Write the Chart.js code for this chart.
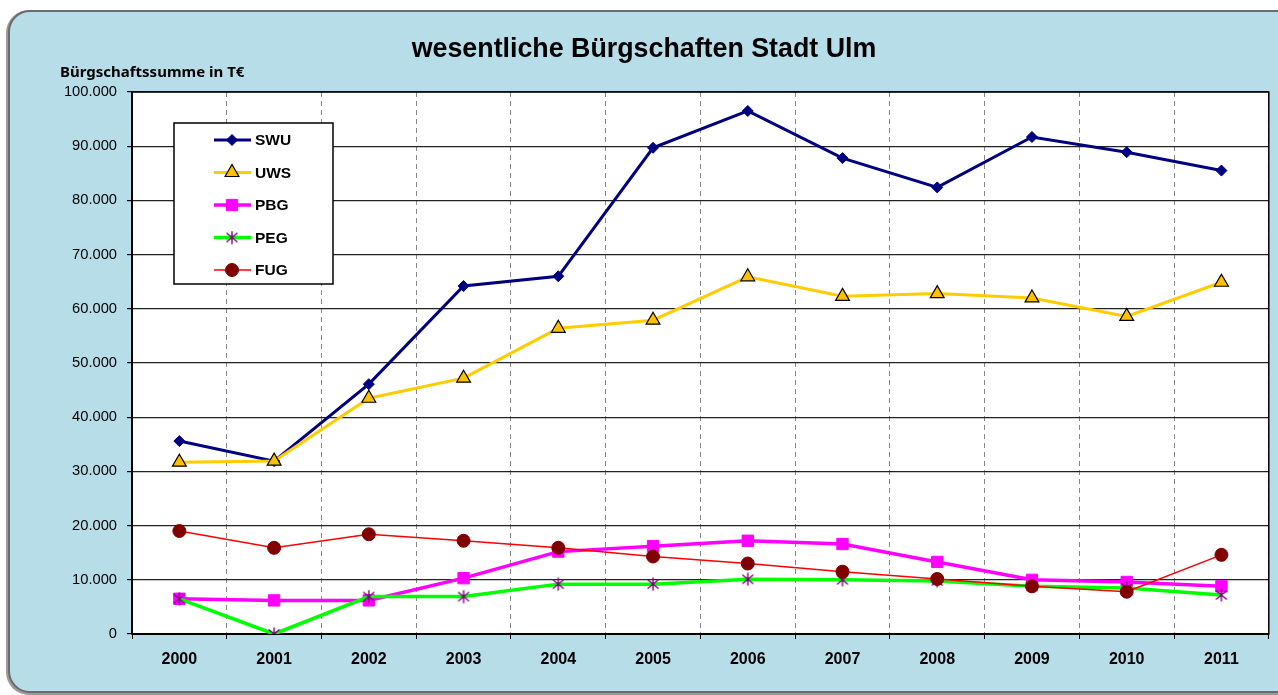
<!DOCTYPE html>
<html>
<head>
<meta charset="utf-8">
<script src="https://cdn.jsdelivr.net/npm/chart.js@4.4.0/dist/chart.umd.min.js"></script>
<style>
  html, body { margin: 0; padding: 0; background: #ffffff; overflow: hidden; }
  #frame { position: absolute; left: 8px; top: 10px; width: 1290px; height: 679px;
           background: #B7DDE8; border: 2px solid #6b6b6b; border-radius: 22px;
           box-shadow: -1px 1px 0 1px #9a9a9a; }
  #wrap { position: absolute; left: 0; top: 0; width: 1278px; height: 695px; }
</style>
</head>
<body>
<div id="frame"></div>
<div id="wrap"><canvas id="c" width="1278" height="695"></canvas></div>
<script>
const years = ['2000','2001','2002','2003','2004','2005','2006','2007','2008','2009','2010','2011'];
const SWU = [35600, 31900, 46100, 64200, 66000, 89700, 96500, 87800, 82400, 91700, 88900, 85500];
const UWS = [31700, 31900, 43500, 47200, 56400, 57900, 65900, 62300, 62800, 62000, 58600, 64900];
const PBG = [6500, 6200, 6200, 10300, 15200, 16200, 17200, 16600, 13300, 10000, 9600, 8800];
const PEG = [6500, 0, 6900, 6900, 9200, 9200, 10100, 10000, 9800, 8800, 8500, 7200];
const FUG = [19000, 15900, 18400, 17200, 15900, 14300, 13000, 11500, 10150, 8800, 7800, 14600];
const titleText = 'wesentliche Bürgschaften Stadt Ulm';
const yTitleText = 'Bürgschaftssumme in T€';

function fmt(v) {
  const s = String(Math.round(v));
  return s.replace(/\B(?=(\d{3})+(?!\d))/g, '.');
}

// Excel-like star marker: X with a vertical bar
function makeStar(color) {
  const c = document.createElement('canvas');
  c.width = 14; c.height = 14;
  const g = c.getContext('2d');
  g.strokeStyle = color;
  g.lineWidth = 1.4;
  g.beginPath();
  g.moveTo(1.5, 2.5); g.lineTo(12.5, 11.5);
  g.moveTo(12.5, 2.5); g.lineTo(1.5, 11.5);
  g.moveTo(7, 0.5); g.lineTo(7, 13.5);
  g.stroke();
  return c;
}
const starImg = makeStar('#800080');

const extras = {
  id: 'extras',
  beforeDraw(chart) {
    const {ctx, chartArea: a} = chart;
    ctx.save();
    ctx.fillStyle = '#ffffff';
    ctx.fillRect(a.left, a.top, a.right - a.left, a.bottom - a.top);
    ctx.restore();
  },
  beforeDatasetsDraw(chart) {
    const {ctx, chartArea: a} = chart;
    ctx.save();
    ctx.strokeStyle = '#000';
    ctx.lineWidth = 1.5;
    ctx.strokeRect(a.left, a.top, a.right - a.left, a.bottom - a.top);
    ctx.beginPath();
    ctx.lineWidth = 2;
    ctx.moveTo(a.left, a.bottom); ctx.lineTo(a.right, a.bottom);
    ctx.moveTo(a.left, a.top); ctx.lineTo(a.left, a.bottom);
    ctx.stroke();
    ctx.restore();
  },
  afterDraw(chart) {
    const {ctx, chartArea: a} = chart;
    ctx.save();
    // title
    ctx.fillStyle = '#000';
    ctx.font = 'bold 26.8px "Liberation Sans", Arial, sans-serif';
    ctx.textAlign = 'center';
    ctx.textBaseline = 'middle';
    ctx.fillText(titleText, 644, 50);
    // y-axis title
    ctx.font = 'bold 15px "Noto Sans", "Open Sans", sans-serif';
    ctx.textAlign = 'left';
    ctx.fillText(yTitleText, 60, 73);
    // legend box
    const bx = a.left + 42, by = a.top + 31, bw = 159, bh = 161;
    ctx.fillStyle = '#fff';
    ctx.fillRect(bx, by, bw, bh);
    ctx.strokeStyle = '#000';
    ctx.lineWidth = 1.5;
    ctx.strokeRect(bx, by, bw, bh);
    chart.data.datasets.forEach((ds, i) => {
      const y = by + 17 + i * 32.5;
      ctx.beginPath();
      ctx.strokeStyle = ds.borderColor;
      ctx.lineWidth = ds.borderWidth;
      ctx.moveTo(bx + 40, y); ctx.lineTo(bx + 77, y);
      ctx.stroke();
      ctx.fillStyle = ds.pointBackgroundColor;
      ctx.strokeStyle = ds.pointBorderColor;
      ctx.lineWidth = ds.pointBorderWidth;
      Chart.helpers.drawPoint(ctx, {
        pointStyle: ds.pointStyle, radius: ds.pointRadius, rotation: 0,
        borderWidth: ds.pointBorderWidth
      }, bx + 58, y);
      ctx.fillStyle = '#000';
      ctx.font = 'bold 15.5px "Liberation Sans", Arial, sans-serif';
      ctx.textAlign = 'left';
      ctx.textBaseline = 'middle';
      ctx.fillText(ds.label, bx + 81, y + 1);
    });
    ctx.restore();
  }
};

new Chart(document.getElementById('c'), {
  type: 'line',
  data: {
    labels: years,
    datasets: [
      { label: 'SWU', data: SWU, borderColor: '#000080', borderWidth: 3,
        pointStyle: 'rectRot', pointRadius: 5.5, pointBackgroundColor: '#000080',
        pointBorderColor: '#000080', pointBorderWidth: 1, order: 5 },
      { label: 'UWS', data: UWS, borderColor: '#FFCC00', borderWidth: 3,
        pointStyle: 'triangle', pointRadius: 8, pointBackgroundColor: '#FFC000',
        pointBorderColor: '#000000', pointBorderWidth: 1.2, order: 4 },
      { label: 'PBG', data: PBG, borderColor: '#FF00FF', borderWidth: 3.5,
        pointStyle: 'rect', pointRadius: 8, pointBackgroundColor: '#FF00FF',
        pointBorderColor: '#FF00FF', pointBorderWidth: 1, order: 3 },
      { label: 'PEG', data: PEG, borderColor: '#00FF00', borderWidth: 3.5,
        pointStyle: starImg, pointRadius: 7, pointBackgroundColor: '#800080',
        pointBorderColor: '#800080', pointBorderWidth: 1.3, order: 2 },
      { label: 'FUG', data: FUG, borderColor: '#FF0000', borderWidth: 1.5,
        pointStyle: 'circle', pointRadius: 6.5, pointBackgroundColor: '#800000',
        pointBorderColor: '#800000', pointBorderWidth: 1, order: 1 }
    ]
  },
  options: {
    responsive: false,
    animation: false,
    events: [],
    layout: { padding: { top: 92, right: 6, bottom: 0, left: 0 } },
    elements: { line: { tension: 0 } },
    plugins: { legend: { display: false }, title: { display: false }, tooltip: { enabled: false } },
    scales: {
      x: {
        offset: true,
        grid: { offset: true, color: '#888', lineWidth: 1, tickColor: '#000', tickLength: 5 },
        border: { display: false, dash: [5, 4] },
        ticks: { color: '#000', padding: 11, maxRotation: 0,
                 font: { family: '"Liberation Sans", Arial, sans-serif', size: 16, weight: 'bold' } },
        afterFit(s) { s.height = 61; }
      },
      y: {
        min: 0, max: 100000,
        grid: { color: '#222', lineWidth: 1.2, tickColor: '#000', tickLength: 5 },
        border: { display: false },
        ticks: { stepSize: 10000, color: '#000', padding: 10,
                 font: { family: '"Liberation Sans", Arial, sans-serif', size: 14.7 },
                 callback: (v) => fmt(v) },
        afterFit(s) { s.width = 132; }
      }
    }
  },
  plugins: [extras]
});
</script>
</body>
</html>
